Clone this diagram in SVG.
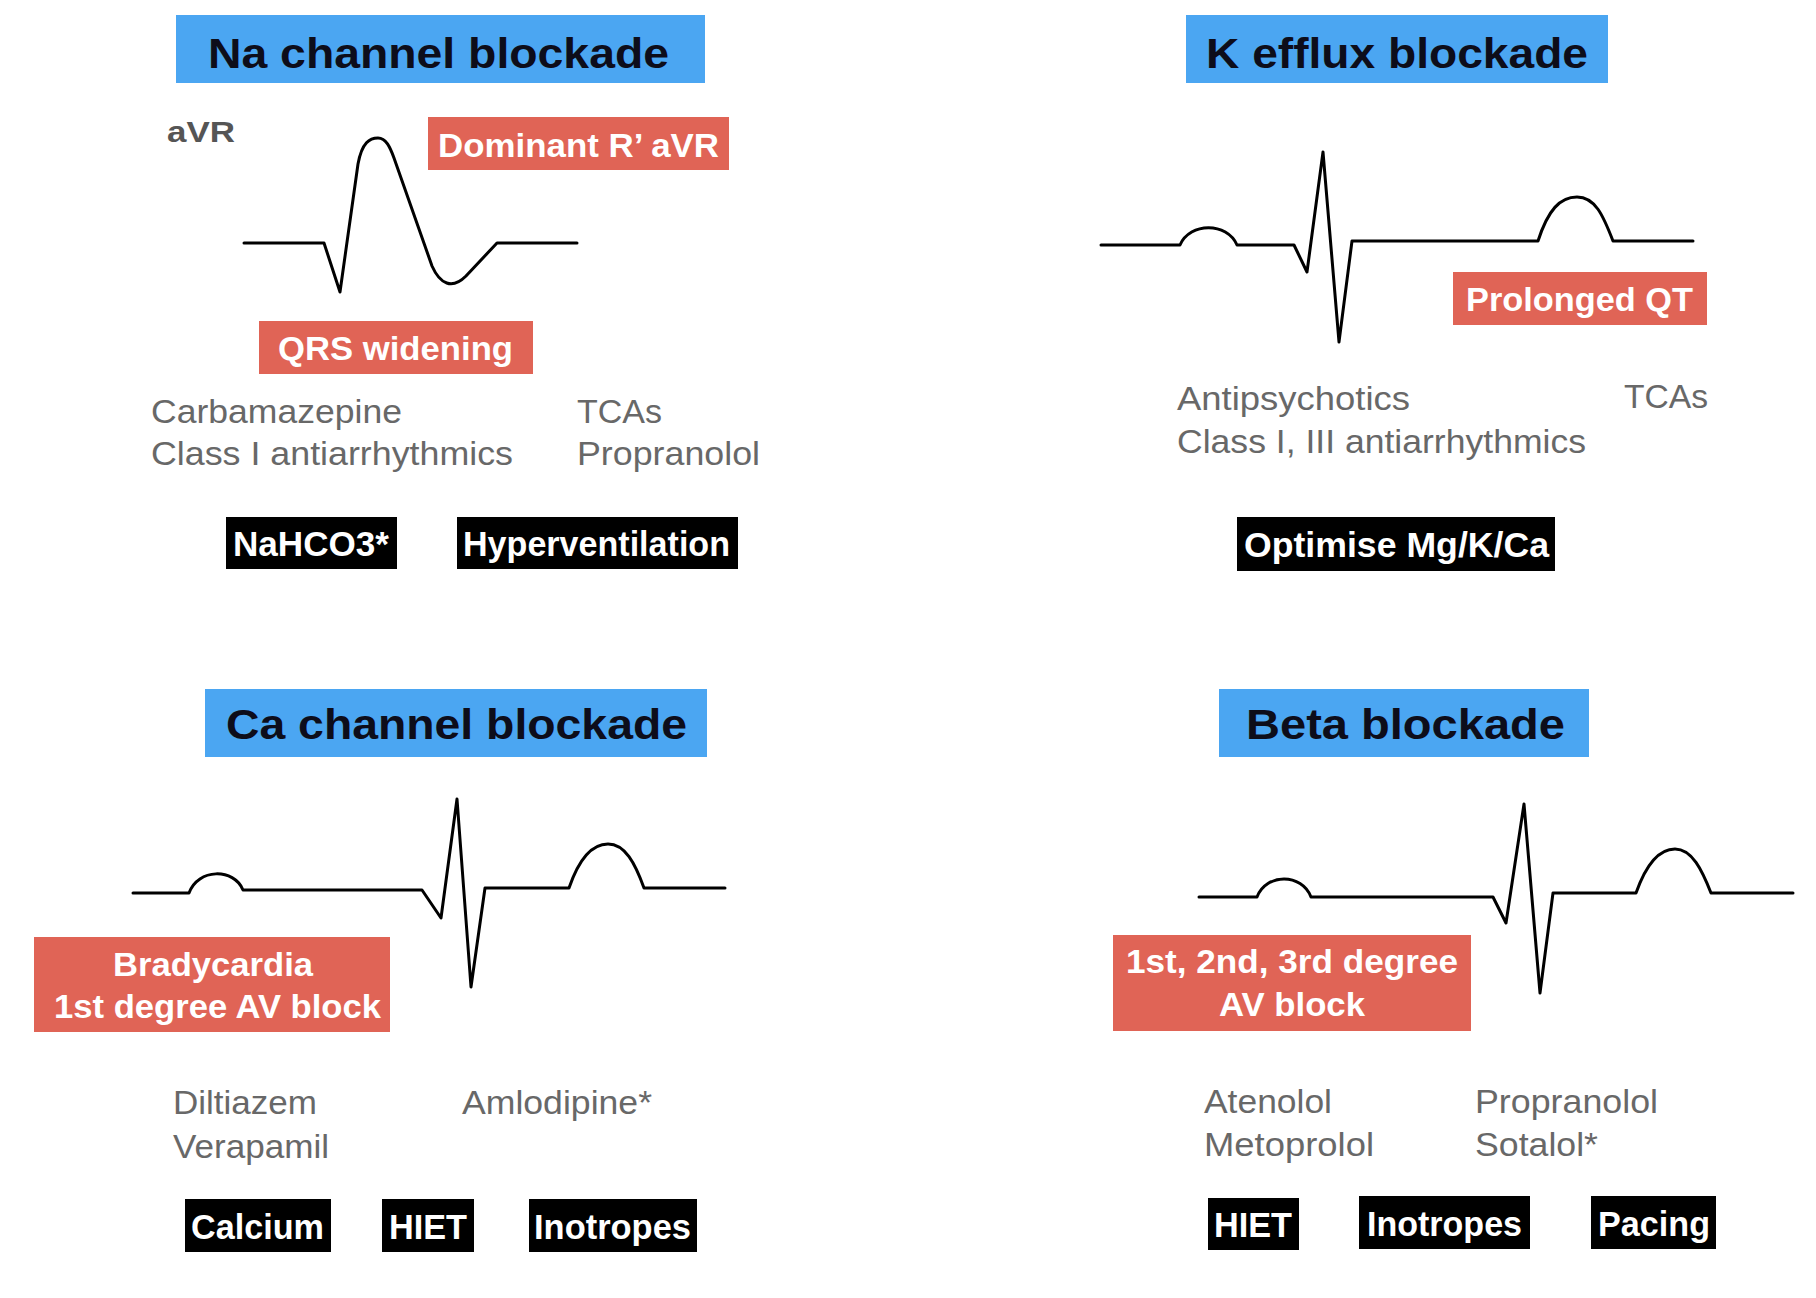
<svg xmlns="http://www.w3.org/2000/svg" width="1816" height="1298" viewBox="0 0 1816 1298">
<style>
  .title-box { fill: #4BA6F2; }
  .title { font-family: "Liberation Sans", Arial, sans-serif; font-weight: bold; font-size: 42px; fill: #0d0d1a; }
  .red-box { fill: #E06456; }
  .red-text { font-family: "Liberation Sans", Arial, sans-serif; font-weight: bold; font-size: 34px; fill: #ffffff; }
  .black-box { fill: #000000; }
  .black-text { font-family: "Liberation Sans", Arial, sans-serif; font-weight: bold; font-size: 35px; fill: #ffffff; }
  .drug { font-family: "Liberation Sans", Arial, sans-serif; font-size: 33px; fill: #686868; }
  .lead { font-family: "Liberation Sans", Arial, sans-serif; font-weight: bold; font-size: 30px; fill: #555555; }
  .ecg { fill: none; stroke: #000000; stroke-width: 3; stroke-linejoin: round; stroke-linecap: round; }
</style>
<rect width="1816" height="1298" fill="#ffffff"/>

<!-- Na channel blockade panel -->
<g id="na-title">
  <rect class="title-box" x="176" y="15" width="529" height="68"/>
  <text class="title" x="208" y="68" textLength="461" lengthAdjust="spacingAndGlyphs">Na channel blockade</text>
</g>
<g id="na-lead">
  <text class="lead" x="167" y="142" textLength="68" lengthAdjust="spacingAndGlyphs">aVR</text>
</g>
<g id="na-ecg">
  <path class="ecg" d="M244,243 L324,243 L340,292 L358,164 C362,142 370,138 378,138 C386,138 390,147 394,158 L432,266 C440,284 452,290 466,276 L497,243 L577,243"/>
</g>
<g id="na-dominant">
  <rect class="red-box" x="428" y="117" width="301" height="53"/>
  <text class="red-text" x="438" y="157" textLength="281" lengthAdjust="spacingAndGlyphs">Dominant R’ aVR</text>
</g>
<g id="na-qrs">
  <rect class="red-box" x="259" y="321" width="274" height="53"/>
  <text class="red-text" x="278" y="360" textLength="235" lengthAdjust="spacingAndGlyphs">QRS widening</text>
</g>
<g id="na-drugs">
  <text class="drug" x="151" y="423" textLength="251" lengthAdjust="spacingAndGlyphs">Carbamazepine</text>
  <text class="drug" x="151" y="465" textLength="362" lengthAdjust="spacingAndGlyphs">Class I antiarrhythmics</text>
  <text class="drug" x="577" y="423" textLength="85" lengthAdjust="spacingAndGlyphs">TCAs</text>
  <text class="drug" x="577" y="465" textLength="183" lengthAdjust="spacingAndGlyphs">Propranolol</text>
</g>
<g id="na-nahco3">
  <rect class="black-box" x="226" y="517" width="171" height="52"/>
  <text class="black-text" x="233" y="556" textLength="156" lengthAdjust="spacingAndGlyphs">NaHCO3*</text>
</g>
<g id="na-hyperventilation">
  <rect class="black-box" x="457" y="517" width="281" height="52"/>
  <text class="black-text" x="463" y="556" textLength="267" lengthAdjust="spacingAndGlyphs">Hyperventilation</text>
</g>

<!-- K efflux blockade panel -->
<g id="k-title">
  <rect class="title-box" x="1186" y="15" width="422" height="68"/>
  <text class="title" x="1206" y="68" textLength="382" lengthAdjust="spacingAndGlyphs">K efflux blockade</text>
</g>
<g id="k-ecg">
  <path class="ecg" d="M1101,245 L1180,245 C1190,222 1227,222 1237,245 L1294,245 L1307,272 L1323,152 L1339,342 L1352,241 L1538,241 C1548,210 1560,197 1577,197 C1595,197 1603,215 1613,241 L1693,241"/>
</g>
<g id="k-qt">
  <rect class="red-box" x="1453" y="272" width="254" height="53"/>
  <text class="red-text" x="1466" y="311" textLength="227" lengthAdjust="spacingAndGlyphs">Prolonged QT</text>
</g>
<g id="k-drugs">
  <text class="drug" x="1177" y="410" textLength="233" lengthAdjust="spacingAndGlyphs">Antipsychotics</text>
  <text class="drug" x="1177" y="453" textLength="409" lengthAdjust="spacingAndGlyphs">Class I, III antiarrhythmics</text>
  <text class="drug" x="1624" y="408" textLength="84" lengthAdjust="spacingAndGlyphs">TCAs</text>
</g>
<g id="k-optimise">
  <rect class="black-box" x="1237" y="517" width="318" height="54"/>
  <text class="black-text" x="1244" y="557" textLength="305" lengthAdjust="spacingAndGlyphs">Optimise Mg/K/Ca</text>
</g>

<!-- Ca channel blockade panel -->
<g id="ca-title">
  <rect class="title-box" x="205" y="689" width="502" height="68"/>
  <text class="title" x="226" y="739" textLength="461" lengthAdjust="spacingAndGlyphs">Ca channel blockade</text>
</g>
<g id="ca-ecg">
  <path class="ecg" d="M133,893 L189,893 C198,868 234,868 243,890 L422,890 L441,918 L457,799 L471,987 L485,888 L569,888 C580,856 594,844 608,844 C625,844 635,863 644,888 L725,888"/>
</g>
<g id="ca-brady">
  <rect class="red-box" x="34" y="937" width="356" height="95"/>
  <text class="red-text" x="113" y="976" textLength="200" lengthAdjust="spacingAndGlyphs">Bradycardia</text>
  <text class="red-text" x="54" y="1018" textLength="327" lengthAdjust="spacingAndGlyphs">1st degree AV block</text>
</g>
<g id="ca-drugs">
  <text class="drug" x="173" y="1114" textLength="144" lengthAdjust="spacingAndGlyphs">Diltiazem</text>
  <text class="drug" x="173" y="1158" textLength="156" lengthAdjust="spacingAndGlyphs">Verapamil</text>
  <text class="drug" x="462" y="1114" textLength="190" lengthAdjust="spacingAndGlyphs">Amlodipine*</text>
</g>
<g id="ca-calcium">
  <rect class="black-box" x="185" y="1199" width="146" height="53"/>
  <text class="black-text" x="191" y="1239" textLength="133" lengthAdjust="spacingAndGlyphs">Calcium</text>
</g>
<g id="ca-hiet">
  <rect class="black-box" x="382" y="1199" width="92" height="53"/>
  <text class="black-text" x="389" y="1239" textLength="78" lengthAdjust="spacingAndGlyphs">HIET</text>
</g>
<g id="ca-inotropes">
  <rect class="black-box" x="529" y="1199" width="168" height="53"/>
  <text class="black-text" x="534" y="1239" textLength="157" lengthAdjust="spacingAndGlyphs">Inotropes</text>
</g>

<!-- Beta blockade panel -->
<g id="beta-title">
  <rect class="title-box" x="1219" y="689" width="370" height="68"/>
  <text class="title" x="1246" y="739" textLength="319" lengthAdjust="spacingAndGlyphs">Beta blockade</text>
</g>
<g id="beta-ecg">
  <path class="ecg" d="M1199,897 L1257,897 C1266,873 1302,873 1311,897 L1493,897 L1506,923 L1524,804 L1540,993 L1553,893 L1636,893 C1647,862 1660,849 1675,849 C1692,849 1702,870 1711,893 L1793,893"/>
</g>
<g id="beta-avblock">
  <rect class="red-box" x="1113" y="935" width="358" height="96"/>
  <text class="red-text" x="1126" y="973" textLength="332" lengthAdjust="spacingAndGlyphs">1st, 2nd, 3rd degree</text>
  <text class="red-text" x="1219" y="1016" textLength="146" lengthAdjust="spacingAndGlyphs">AV block</text>
</g>
<g id="beta-drugs">
  <text class="drug" x="1204" y="1113" textLength="128" lengthAdjust="spacingAndGlyphs">Atenolol</text>
  <text class="drug" x="1204" y="1156" textLength="170" lengthAdjust="spacingAndGlyphs">Metoprolol</text>
  <text class="drug" x="1475" y="1113" textLength="183" lengthAdjust="spacingAndGlyphs">Propranolol</text>
  <text class="drug" x="1475" y="1156" textLength="123" lengthAdjust="spacingAndGlyphs">Sotalol*</text>
</g>
<g id="beta-hiet">
  <rect class="black-box" x="1208" y="1198" width="91" height="52"/>
  <text class="black-text" x="1214" y="1237" textLength="78" lengthAdjust="spacingAndGlyphs">HIET</text>
</g>
<g id="beta-inotropes">
  <rect class="black-box" x="1359" y="1196" width="171" height="53"/>
  <text class="black-text" x="1367" y="1236" textLength="155" lengthAdjust="spacingAndGlyphs">Inotropes</text>
</g>
<g id="beta-pacing">
  <rect class="black-box" x="1591" y="1196" width="125" height="53"/>
  <text class="black-text" x="1598" y="1236" textLength="112" lengthAdjust="spacingAndGlyphs">Pacing</text>
</g>

<g id="connectors"></g>
</svg>
